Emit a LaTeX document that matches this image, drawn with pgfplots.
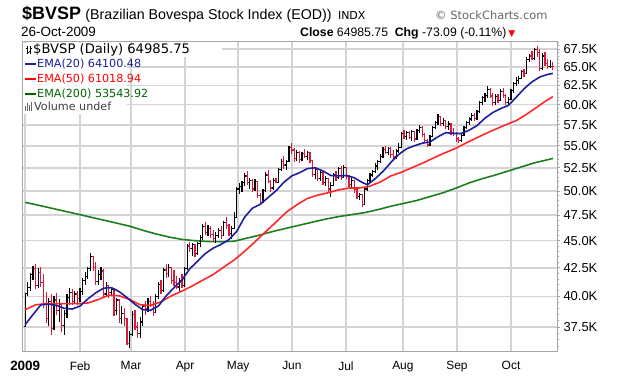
\documentclass[border=0pt]{standalone}
\usepackage{fontspec}
\setmainfont{Liberation Sans}
\newfontfamily\dv{DejaVu Sans}
\usepackage{pgfplots}
\usepackage{pgfplotstable}
\pgfplotsset{compat=1.18}
\definecolor{barred}{RGB}{215,25,60}
\definecolor{emablue}{RGB}{30,30,160}
\definecolor{emared}{RGB}{255,40,40}
\definecolor{emagreen}{RGB}{30,125,30}
\definecolor{gridgray}{RGB}{212,212,212}
\definecolor{framegray}{RGB}{165,165,165}
\definecolor{legblue}{RGB}{30,30,150}
\definecolor{leggreen}{RGB}{0,100,0}

\pgfplotstableread{
i o h l c
0 37.55 40.24 37.50 40.24
1 40.24 41.20 40.00 40.79
2 40.79 42.00 40.50 41.90
3 41.90 42.70 41.40 42.40
4 42.40 42.80 40.60 40.90
5 40.90 42.50 40.70 42.10
6 42.10 42.60 40.80 41.20
7 41.20 41.90 39.00 39.40
8 39.40 40.40 37.80 38.20
9 38.20 39.90 37.60 39.60
10 39.60 40.20 36.90 37.40
11 37.40 40.00 37.30 39.70
12 39.70 40.30 38.50 38.80
13 38.80 39.80 37.90 39.30
14 39.30 39.40 37.10 37.60
15 37.60 38.90 36.90 38.60
16 38.60 40.20 38.20 39.90
17 39.90 40.70 39.30 40.30
18 40.30 40.60 39.30 39.60
19 39.60 40.50 39.40 40.20
20 40.20 40.50 39.30 39.80
21 39.80 40.70 39.50 40.40
22 40.40 41.60 40.10 41.40
23 41.40 42.10 41.00 41.70
24 41.70 42.60 41.50 42.40
25 42.40 43.80 42.20 43.50
26 43.50 43.60 42.20 42.50
27 42.50 43.00 41.00 41.30
28 41.30 42.30 41.00 41.90
29 41.90 42.60 41.40 42.20
30 42.20 42.40 39.90 40.20
31 40.20 41.20 40.00 40.90
32 40.90 41.00 39.90 40.30
33 40.30 40.80 40.00 40.60
34 40.60 40.70 38.40 38.80
35 38.80 39.90 38.50 39.70
36 39.70 39.80 37.80 38.20
37 38.20 39.20 37.70 38.60
38 38.60 39.00 37.60 38.18
39 38.18 38.20 36.10 36.23
40 36.23 37.20 35.90 36.90
41 36.90 38.80 36.80 38.50
42 38.50 38.90 37.30 37.50
43 37.50 37.90 36.60 37.00
44 37.00 38.30 36.60 37.90
45 37.90 39.40 37.60 39.20
46 39.20 39.60 38.50 39.00
47 39.00 39.90 38.70 39.60
48 39.60 40.00 39.10 39.30
49 39.30 39.60 38.40 38.70
50 38.70 40.20 38.60 40.00
51 40.00 41.20 39.80 41.00
52 41.00 41.40 40.20 40.50
53 40.50 42.50 40.40 42.30
54 42.30 42.80 41.60 42.00
55 42.00 42.80 41.70 42.50
56 42.50 42.60 41.10 41.40
57 41.40 42.30 40.90 41.20
58 41.20 41.80 40.60 40.80
59 40.80 41.60 40.50 41.40
60 41.40 41.90 40.70 40.93
61 40.93 42.60 40.80 42.40
62 42.40 44.70 42.30 44.50
63 44.50 44.90 43.90 44.30
64 44.30 44.80 43.60 44.60
65 44.60 44.70 43.50 43.80
66 43.80 44.90 43.70 44.70
67 44.70 45.50 44.40 45.30
68 45.30 46.60 45.10 46.40
69 46.40 46.80 45.50 45.80
70 45.80 46.50 45.40 46.20
71 46.20 46.40 45.30 45.60
72 45.60 46.00 44.90 45.20
73 45.20 45.80 44.80 45.50
74 45.50 46.20 45.30 46.00
75 46.00 46.40 45.20 45.50
76 45.50 46.90 45.40 46.80
77 46.80 47.30 46.10 46.50
78 46.50 46.60 45.40 45.70
79 45.70 46.40 45.20 46.20
80 46.20 47.80 46.10 47.29
81 47.29 50.40 47.20 50.20
82 50.20 50.80 49.70 50.50
83 50.50 51.10 49.90 50.90
84 50.90 51.90 50.50 51.60
85 51.60 52.10 50.60 50.90
86 50.90 51.40 50.20 51.10
87 51.10 51.30 49.90 50.20
88 50.20 51.30 50.00 51.00
89 51.00 51.10 49.20 49.50
90 49.50 49.80 48.50 48.80
91 48.80 50.20 48.70 50.00
92 50.00 52.00 49.90 51.70
93 51.70 52.30 50.80 51.00
94 51.00 51.20 49.90 50.30
95 50.30 51.40 50.10 51.10
96 51.10 51.40 50.80 50.90
97 50.90 52.50 50.80 52.30
98 52.30 53.50 52.10 53.20
99 53.20 53.80 52.40 52.80
100 52.80 53.40 52.30 53.20
101 53.20 55.00 53.10 54.80
102 54.80 55.30 54.00 54.50
103 54.50 54.70 53.20 53.50
104 53.50 54.50 53.30 54.20
105 54.20 54.40 53.00 53.40
106 53.40 54.30 53.30 54.10
107 54.10 54.60 53.60 53.80
108 53.80 54.40 53.40 54.20
109 54.20 54.30 53.00 53.30
110 53.30 53.40 51.50 51.80
111 51.80 52.60 51.30 52.30
112 52.30 52.50 51.00 51.30
113 51.30 52.40 51.10 52.00
114 52.00 52.10 50.60 50.90
115 50.90 51.60 50.50 51.30
116 51.30 51.40 49.80 50.20
117 50.20 50.90 49.40 50.60
118 50.60 51.90 50.50 51.70
119 51.70 52.10 51.00 51.40
120 51.40 52.60 51.30 52.40
121 52.40 52.70 51.20 51.47
122 51.47 52.80 51.40 52.50
123 52.50 52.60 51.30 51.60
124 51.60 51.70 50.40 50.70
125 50.70 51.40 50.20 51.10
126 51.10 51.20 49.80 50.10
127 50.10 50.20 49.10 49.40
128 49.40 49.80 49.00 49.60
129 49.60 49.70 48.30 48.60
130 48.60 50.40 48.50 50.20
131 50.20 51.30 50.00 51.10
132 51.10 51.90 50.90 51.70
133 51.70 52.30 51.50 52.10
134 52.10 53.00 51.90 52.70
135 52.70 53.40 52.30 53.20
136 53.20 54.00 53.00 53.80
137 53.80 54.80 53.60 54.60
138 54.60 55.00 54.00 54.20
139 54.20 54.90 53.90 54.70
140 54.70 54.80 53.60 54.00
141 54.00 54.50 53.40 53.70
142 53.70 54.60 53.50 54.40
143 54.40 55.30 54.20 54.77
144 54.77 56.60 54.70 56.40
145 56.40 56.90 55.80 56.10
146 56.10 56.80 55.70 56.60
147 56.60 56.70 55.80 56.00
148 56.00 56.90 55.60 56.70
149 56.70 56.80 55.40 55.80
150 55.80 57.00 55.70 56.80
151 56.80 57.50 56.50 57.20
152 57.20 57.30 56.00 56.30
153 56.30 56.50 55.30 55.60
154 55.60 55.80 54.90 55.10
155 55.10 56.30 55.00 56.10
156 56.10 57.40 56.00 57.20
157 57.20 58.00 57.00 57.80
158 57.80 58.80 57.50 58.50
159 58.50 58.60 57.40 57.70
160 57.70 58.30 57.30 58.00
161 58.00 58.10 57.00 57.30
162 57.30 57.90 56.90 57.60
163 57.60 57.70 56.30 56.60
164 56.60 57.10 56.10 56.49
165 56.49 56.60 55.50 55.80
166 55.80 56.00 55.30 55.60
167 55.60 56.40 55.40 56.20
168 56.20 57.40 56.10 57.20
169 57.20 58.00 57.00 57.80
170 57.80 58.50 57.50 58.20
171 58.20 58.90 57.90 58.60
172 58.60 59.00 58.00 58.30
173 58.30 59.30 58.10 59.10
174 59.10 60.50 58.90 60.30
175 60.30 61.10 60.00 60.90
176 60.90 61.50 60.30 61.20
177 61.20 62.40 60.90 62.00
178 62.00 62.20 60.80 61.10
179 61.10 61.50 59.80 60.30
180 60.30 61.30 60.00 61.00
181 61.00 61.40 60.20 60.50
182 60.50 62.00 60.40 61.70
183 61.70 62.10 60.90 61.20
184 61.20 61.30 59.90 60.30
185 60.30 61.00 59.80 60.70
186 60.70 62.00 60.60 61.80
187 61.80 63.00 61.50 62.70
188 62.70 63.60 62.40 63.10
189 63.10 63.80 62.70 63.40
190 63.40 64.50 63.30 64.30
191 64.30 64.70 63.60 64.10
192 64.10 66.30 64.00 66.00
193 66.00 66.80 65.60 66.50
194 66.50 67.20 65.90 66.20
195 66.20 67.70 66.00 67.40
196 67.40 67.90 66.40 67.00
197 67.00 67.50 64.40 64.80
198 64.80 66.90 64.60 66.50
199 66.50 67.00 65.10 65.50
200 65.50 66.10 64.70 65.00
201 65.00 65.90 64.80 65.06
202 65.06 65.60 64.60 64.99
}\ohlc

\pgfplotstableread{
i v
0 37.70
3 38.50
6 39.30
9 39.35
12 39.25
15 39.00
18 38.95
21 39.20
24 39.80
27 40.30
30 40.70
33 40.75
36 40.40
39 39.90
42 39.35
45 38.90
48 38.85
51 39.20
54 40.05
57 40.75
60 41.40
63 42.40
66 43.10
69 43.80
72 44.30
75 44.65
78 45.10
81 45.90
84 47.30
87 48.20
90 48.60
93 49.30
96 50.00
99 50.90
102 51.60
105 51.95
108 52.40
111 52.50
114 52.15
117 51.65
120 51.60
123 51.65
126 51.40
129 50.90
131 50.65
134 51.30
137 52.10
140 53.10
143 54.00
146 54.65
149 55.00
152 55.30
155 55.45
158 56.05
161 56.55
164 56.45
167 56.45
170 56.85
173 57.40
176 58.30
179 59.00
182 59.50
185 59.90
188 60.95
191 62.05
194 62.95
197 63.60
200 63.95
202 64.10
}\emaA

\pgfplotstableread{
i v
0 38.90
4 39.30
8 39.40
12 39.40
16 39.40
20 39.40
24 39.45
28 39.75
32 40.10
36 40.05
40 39.75
44 39.30
48 39.25
52 39.55
56 40.05
60 40.45
64 40.90
68 41.40
72 41.90
76 42.55
80 43.20
84 44.00
88 44.90
92 45.85
96 46.80
100 47.80
104 48.55
108 49.20
112 49.55
116 49.80
120 50.10
124 50.30
128 50.30
132 50.50
136 50.95
140 51.60
144 52.00
148 52.50
152 53.00
156 53.55
160 54.10
164 54.60
168 55.20
172 55.80
176 56.40
180 56.95
184 57.50
188 58.00
192 58.80
196 59.70
199 60.40
202 61.02
}\emaB

\pgfplotstableread{
i v
0 48.80
5 48.50
10 48.20
15 47.90
20 47.60
25 47.30
30 47.00
35 46.70
40 46.40
45 46.00
50 45.65
55 45.35
60 45.12
65 45.00
70 44.92
75 44.90
80 44.95
85 45.25
90 45.55
95 45.90
100 46.20
105 46.50
110 46.80
115 47.10
120 47.35
125 47.55
130 47.75
135 48.05
140 48.40
145 48.70
150 49.00
155 49.40
160 49.80
165 50.30
170 50.85
175 51.30
180 51.70
185 52.15
190 52.60
195 53.05
202 53.54
}\emaC

\begin{document}
\begin{tikzpicture}
\path[use as bounding box] (0,0) rectangle (620bp,383bp);
% collect OHLC segments from the table
\gdef\barsup{}\gdef\barsdown{}\gdef\prevc{37.55}
\pgfplotstablegetrowsof{\ohlc}
\pgfmathtruncatemacro{\nlast}{\pgfplotsretval-1}
\pgfplotsforeachungrouped \r in {0,...,\nlast}{%
  \pgfplotstablegetelem{\r}{i}\of\ohlc \let\vi\pgfplotsretval
  \pgfplotstablegetelem{\r}{o}\of\ohlc \let\vo\pgfplotsretval
  \pgfplotstablegetelem{\r}{h}\of\ohlc \let\vh\pgfplotsretval
  \pgfplotstablegetelem{\r}{l}\of\ohlc \let\vl\pgfplotsretval
  \pgfplotstablegetelem{\r}{c}\of\ohlc \let\vc\pgfplotsretval
  \pgfmathsetmacro\xa{\vi-0.55}%
  \pgfmathsetmacro\xb{\vi+0.55}%
  \edef\seg{(\vi,\vl) (\vi,\vh) (\vi,nan) (\xa,\vo) (\vi,\vo) (\vi,nan) (\vi,\vc) (\xb,\vc) (\vi,nan) }%
  \pgfmathtruncatemacro\isdown{\vc<\prevc}%
  \ifnum\isdown=1 \xdef\barsdown{\barsdown\seg}\else\xdef\barsup{\barsup\seg}\fi
  \global\let\prevc\vc
}
\begin{axis}[
  at={(22bp,31bp)}, anchor=south west,
  scale only axis, width=535bp, height=310bp,
  ymode=log,
  xmin=-1.23, xmax=203.6, ymin=35.57, ymax=68.5,
  xtick={0,21,40.5,61.2,81.5,102.1,122.8,144.6,165.3,186},
  xticklabels={{\bfseries\fontsize{13.5}{14}\selectfont 2009},Feb,Mar,Apr,May,Jun,Jul,Aug,Sep,Oct},
  ytick={37.5,40,42.5,45,47.5,50,52.5,55,57.5,60,62.5,65,67.5},
  yticklabels={37.5K,40.0K,42.5K,45.0K,47.5K,50.0K,52.5K,55.0K,57.5K,60.0K,62.5K,65.0K,67.5K},
  minor ytick={36,36.5,...,68.5},
  yticklabel pos=right, ytick pos=right,
  xtick style={draw=none},
  tick align=outside,
  major tick length=3bp, minor tick length=2bp,
  every tick/.style={framegray, line width=0.6bp},
  grid=major,
  major grid style={draw=gridgray, line width=1.6bp},
  minor grid style={draw=none},
  axis line style={draw=framegray, line width=1bp},
  xticklabel style={font=\fontsize{12}{12}\selectfont, yshift=-3bp},
  yticklabel style={font=\fontsize{13}{13}\selectfont},
  clip=true,
]
\addplot[emagreen, line width=1.6bp] table[x=i, y=v] {\emaC};
\edef\tmp{\noexpand\addplot[black, line width=1.2bp, unbounded coords=jump] coordinates {\barsup};}\tmp
\edef\tmp{\noexpand\addplot[barred, line width=1.2bp, unbounded coords=jump] coordinates {\barsdown};}\tmp
\addplot[emared, line width=1.6bp] table[x=i, y=v] {\emaB};
\addplot[emablue, line width=1.6bp] table[x=i, y=v] {\emaA};
\end{axis}
% legend block
\fill[white] (23bp,326bp) rectangle (222bp,340bp);
\fill[white] (23bp,269bp) rectangle (127bp,326bp);
\draw[black, line width=0.8bp] (27bp,329bp) -- (27bp,337bp) (25.5bp,335bp) -- (27bp,335bp) (27bp,331bp) -- (28.5bp,331bp);
\draw[black, line width=0.8bp] (30.5bp,329bp) -- (30.5bp,337bp) (29bp,332bp) -- (30.5bp,332bp) (30.5bp,335bp) -- (32bp,335bp);
\node[anchor=base west, inner sep=0, font=\dv\fontsize{13.2}{13.2}\selectfont] at (33bp,329bp) {\$BVSP (Daily) 64985.75};
\draw[legblue, line width=2bp] (25bp,319bp) -- (36bp,319bp);
\node[anchor=base west, inner sep=0, font=\dv\fontsize{11.2}{11.2}\selectfont, text=legblue] at (37bp,315bp) {EMA(20) 64100.48};
\draw[red, line width=2bp] (25bp,304bp) -- (36bp,304bp);
\node[anchor=base west, inner sep=0, font=\dv\fontsize{11.2}{11.2}\selectfont, text=red] at (37bp,300bp) {EMA(50) 61018.94};
\draw[leggreen, line width=2bp] (25bp,289bp) -- (36bp,289bp);
\node[anchor=base west, inner sep=0, font=\dv\fontsize{11.2}{11.2}\selectfont, text=leggreen] at (37bp,285bp) {EMA(200) 53543.92};
\fill[gray!80!black] (25bp,272bp) rectangle (26.3bp,277bp);
\fill[gray!80!black] (27bp,272bp) rectangle (28.3bp,280bp);
\fill[gray!80!black] (29bp,272bp) rectangle (30.3bp,278bp);
\fill[gray!80!black] (31bp,272bp) rectangle (32.3bp,281bp);
\node[anchor=base west, inner sep=0, font=\dv\fontsize{11.2}{11.2}\selectfont, text=black!75] at (34bp,272bp) {Volume undef};
% header
\node[anchor=base west, inner sep=0, font=\bfseries\fontsize{18}{18}\selectfont] (t1) at (22bp,363bp) {\$BVSP};
\node[anchor=base west, inner sep=0, font=\fontsize{14.3}{14.3}\selectfont] (t2) at ([xshift=4bp]t1.base east) {(Brazilian Bovespa Stock Index (EOD))};
\node[anchor=base west, inner sep=0, font=\dv\fontsize{11}{11}\selectfont] at ([xshift=6bp]t2.base east) {INDX};
\node[anchor=base west, inner sep=0, font=\dv\fontsize{11.5}{11.5}\selectfont, text=black!60] at (435bp,363bp) {\textcopyright\ StockCharts.com};
\node[anchor=base west, inner sep=0, font=\fontsize{13.5}{13.5}\selectfont] at (21bp,346bp) {26-Oct-2009};
\node[anchor=base west, inner sep=0, font=\fontsize{12.3}{12.3}\selectfont] at (300bp,346bp) {\textbf{Close} 64985.75\ \ \textbf{Chg} -73.09 (-0.11\%)\,{\dv\fontsize{9}{9}\selectfont\textcolor{red}{▼}}};
\end{tikzpicture}
\end{document}
